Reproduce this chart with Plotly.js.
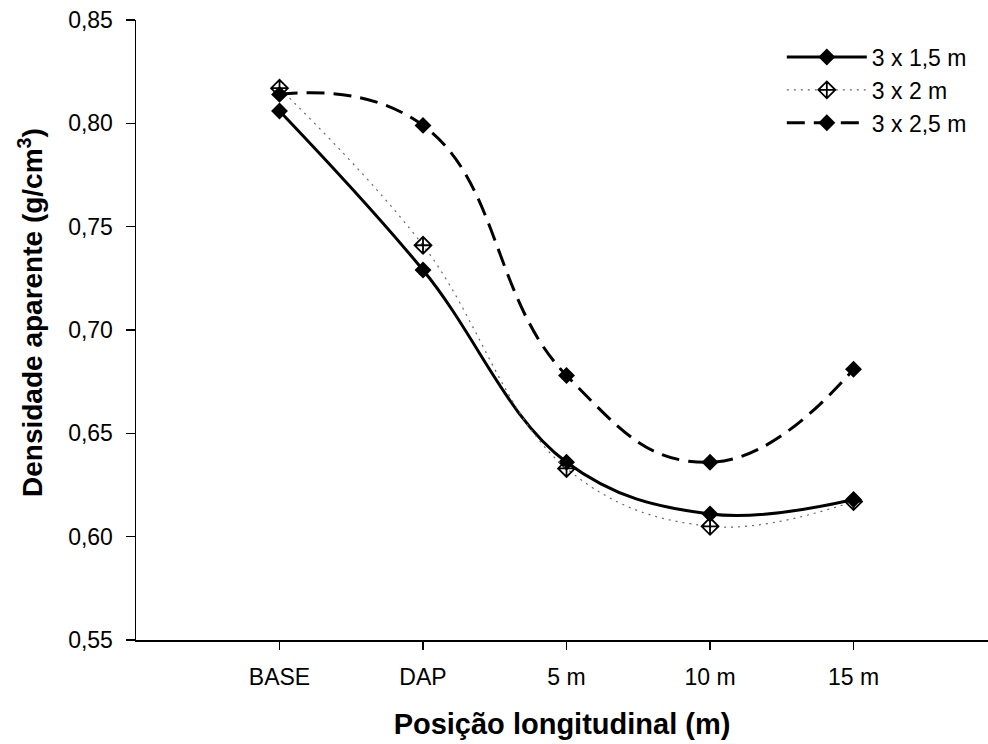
<!DOCTYPE html>
<html>
<head>
<meta charset="utf-8">
<script src="https://cdn.plot.ly/plotly-3.0.1.min.js"></script>
<style>html,body{margin:0;padding:0;background:#fff;overflow:hidden}#chart{width:988px;height:744px}</style>
</head>
<body>
<div id="chart"></div>
<script>
const categories = ["BASE", "DAP", "5 m", "10 m", "15 m"];
const positions = [1, 2, 3, 4, 5];
const s15 = [0.806, 0.729, 0.636, 0.611, 0.618];
const s20 = [0.817, 0.741, 0.633, 0.605, 0.617];
const s25 = [0.814, 0.799, 0.678, 0.636, 0.681];
const seriesNames = ["3 x 1,5 m", "3 x 2 m", "3 x 2,5 m"];
const yTicks = [0.55, 0.60, 0.65, 0.70, 0.75, 0.80, 0.85];
const yTickText = ["0,55", "0,60", "0,65", "0,70", "0,75", "0,80", "0,85"];
const xTitle = "Posição longitudinal (m)";
const yTitle = "Densidade aparente (g/cm<sup>3</sup>)";

const FONT = "Arial, 'Liberation Sans', sans-serif";

const traces = [
  {
    x: positions, y: s15, name: seriesNames[0], mode: "lines+markers",
    line: {shape: "spline", smoothing: 1.1, color: "#000", width: 3},
    marker: {symbol: "diamond", size: 13, color: "#000"}
  },
  {
    x: positions, y: s20, name: seriesNames[1], mode: "lines+markers",
    line: {shape: "spline", smoothing: 1.1, color: "#666", width: 1.2, dash: "2px,5px"},
    marker: {symbol: "diamond-cross-open", size: 13, color: "#000", line: {width: 1.8, color: "#000"}}
  },
  {
    x: positions, y: s25, name: seriesNames[2], mode: "lines+markers",
    line: {shape: "spline", smoothing: 1.3, color: "#000", width: 3, dash: "18px,9px"},
    marker: {symbol: "diamond", size: 13, color: "#000"}
  }
];

const layout = {
  width: 988, height: 744,
  margin: {l: 136, r: 0, t: 20, b: 104},
  paper_bgcolor: "#fff", plot_bgcolor: "#fff",
  font: {family: FONT, size: 23, color: "#000"},
  showlegend: true,
  legend: {
    x: 0.758, y: 0.975, xanchor: "left", yanchor: "top",
    font: {family: FONT, size: 23, color: "#000"},
    bgcolor: "rgba(0,0,0,0)", itemwidth: 80, tracegroupgap: 0
  },
  xaxis: {
    range: [0, 5.937], tickmode: "array", tickvals: positions, ticktext: categories,
    showgrid: false, zeroline: false, showline: true, linecolor: "#000", linewidth: 1.5,
    ticks: "outside", ticklen: 8, tickwidth: 1.5, tickcolor: "#000",
    ticklabelstandoff: 8,
    tickfont: {family: FONT, size: 23, color: "#000"},
    title: {text: "<b>" + xTitle + "</b>", font: {family: FONT, size: 29, color: "#000"}, standoff: 24}
  },
  yaxis: {
    range: [0.55, 0.85], tickmode: "array", tickvals: yTicks, ticktext: yTickText,
    showgrid: false, zeroline: false, showline: true, linecolor: "#000", linewidth: 1.5,
    ticks: "outside", ticklen: 9, tickwidth: 1.5, tickcolor: "#000",
    ticklabelstandoff: 8,
    tickfont: {family: FONT, size: 23, color: "#000"}
  },
  annotations: [{
    text: "<b>" + yTitle + "</b>", textangle: -90,
    xref: "paper", yref: "paper", x: -0.124, y: 0.528,
    xanchor: "center", yanchor: "middle", showarrow: false,
    font: {family: FONT, size: 28, color: "#000"}
  }]
};

Plotly.newPlot("chart", traces, layout, {displayModeBar: false, staticPlot: true});
</script>
</body>
</html>
